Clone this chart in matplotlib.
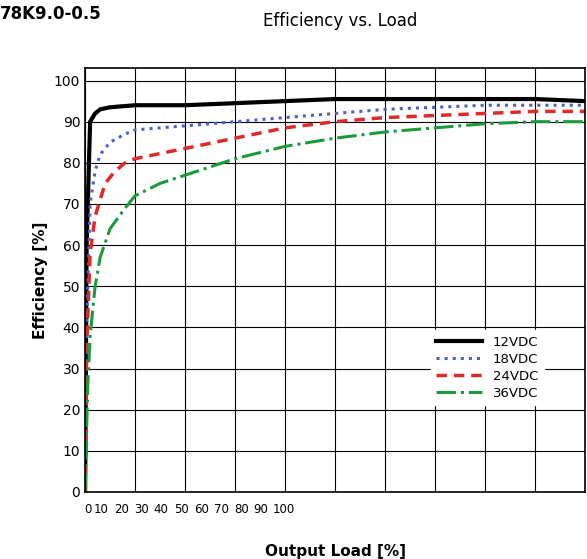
import matplotlib.pyplot as plt

load_12 = [0, 0.3, 1, 2, 3, 5, 10, 20, 30, 40, 50, 60, 70, 80, 90, 100]
eff_12 = [0, 60, 90, 92, 93, 93.5, 94, 94, 94.5, 95, 95.5, 95.5, 95.5, 95.5, 95.5, 95]

load_18 = [0, 0.3, 1, 2, 3, 5, 8, 10, 20, 30, 40, 50, 60, 70, 80, 90, 100]
eff_18 = [0, 40, 70, 78, 82, 85, 87, 88, 89, 90, 91, 92, 93, 93.5, 94, 94, 94]

load_24 = [0, 0.3, 1, 2, 4, 6, 8, 10, 20, 30, 40, 50, 60, 70, 80, 90, 100]
eff_24 = [0, 35, 58, 67, 75, 78, 80, 81, 83.5, 86, 88.5, 90, 91, 91.5, 92, 92.5, 92.5]

load_36 = [0, 0.5, 1, 2, 3, 5, 8, 10, 15, 20, 30, 40, 50, 60, 70, 80, 90, 100]
eff_36 = [0, 25, 38, 50, 57, 64, 69, 72, 75, 77, 81, 84, 86, 87.5, 88.5, 89.5, 90, 90]

tick_labels = ['0', '10', '20', '30', '40', '50', '60', '70', '80', '90', '100']

fig = plt.figure(figsize=(5.87, 5.59), dpi=100)
ax = fig.add_axes([0.145, 0.12, 0.852, 0.758])

ax.plot(load_12, eff_12, color='black', lw=3, label='12VDC')
ax.plot(load_18, eff_18, color='#4a62c8', lw=2.2, ls=':', label='18VDC')
ax.plot(load_24, eff_24, color='#e02a2a', lw=2.5, ls=(0, (3, 2)), label='24VDC')
ax.plot(load_36, eff_36, color='#1a9a3a', lw=2.2, ls='-.', label='36VDC')

ax.set_xlim(0, 100)
ax.set_ylim(0, 103)
ax.set_yticks(range(0, 101, 10))
# labels crowded to the left, as in the original sheet
ax.set_xticks([0.6, 3.2, 7.2, 11.2, 15.2, 19.2, 23.2, 27.2, 31.2, 35.2, 39.8])
ax.set_xticklabels(tick_labels, fontsize=8.5)
ax.set_xticks(range(0, 101, 10), minor=True)
ax.tick_params(axis='x', which='both', length=0, pad=8)
ax.tick_params(axis='y', length=0, labelsize=10)
ax.grid(False)
ax.grid(True, which='minor', axis='x', color='black', lw=0.8)
ax.grid(True, which='major', axis='y', color='black', lw=0.8)
for s in ax.spines.values():
    s.set_linewidth(1.2)

ax.legend(loc='lower right', bbox_to_anchor=(0.93, 0.19), fontsize=9.5,
          frameon=True, fancybox=False, edgecolor='white', framealpha=1,
          handlelength=3.5, labelspacing=0.3)

ax.set_xlabel('Output Load [%]', fontsize=11, fontweight='bold', labelpad=20)
ax.set_ylabel('Efficiency [%]', fontsize=11, fontweight='bold')
fig.text(0.58, 0.962, 'Efficiency vs. Load', ha='center', va='center', fontsize=12)
fig.text(0.0, 0.975, '78K9.0-0.5', ha='left', va='center', fontsize=12, fontweight='bold')

fig.savefig('out.png', dpi=100)
